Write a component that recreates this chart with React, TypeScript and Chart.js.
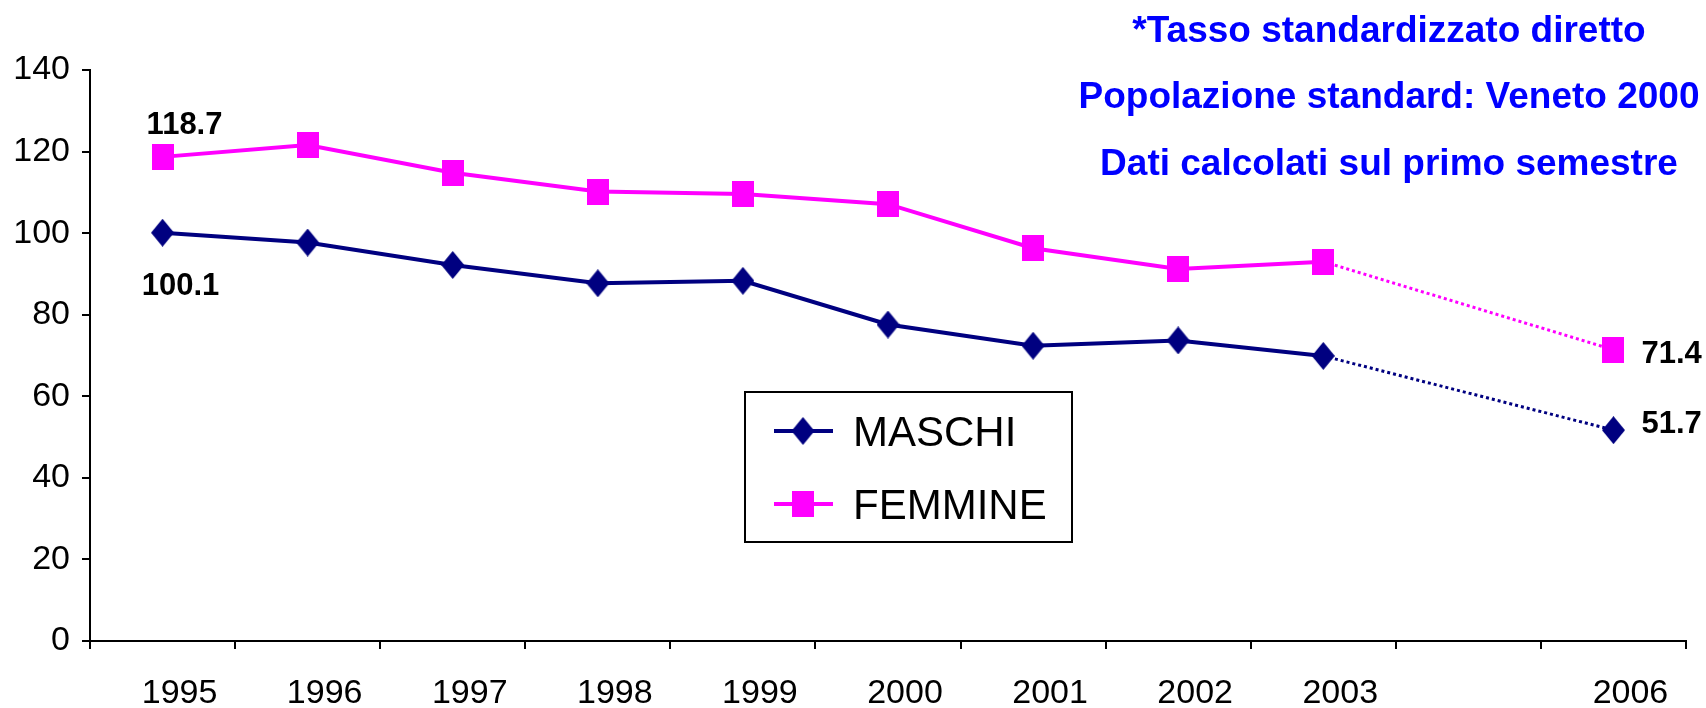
import React, { useEffect, useRef } from "react";
import { Chart, registerables } from "chart.js";

Chart.register(...registerables);

// ---- data ----
const categories = ["1995", "1996", "1997", "1998", "1999", "2000", "2001", "2002", "2003", "", "2006"];
const maschi: (number | null)[] = [100.1, 97.7, 92.2, 87.7, 88.3, 77.6, 72.4, 73.7, 69.9, null, 51.7];
const femmine: (number | null)[] = [118.7, 121.6, 114.8, 110.2, 109.6, 107.1, 96.3, 91.2, 93.0, null, 71.4];
const yTicks = [0, 20, 40, 60, 80, 100, 120, 140];
const seriesNames = ["MASCHI", "FEMMINE"];
const noteLines = [
  "*Tasso standardizzato diretto",
  "Popolazione standard: Veneto 2000",
  "Dati calcolati sul primo semestre",
];
// which points carry a value label: [datasetIndex, pointIndex]
const labelledPoints: [number, number][] = [
  [1, 0],
  [0, 0],
  [1, 10],
  [0, 10],
];

const FONT = "'Liberation Sans', Arial, Helvetica, sans-serif";
const NAVY = "#000080";
const MAGENTA = "#FF00FF";
const BLUE = "#0000FF";

function makeDiamond(color: string, w: number, h: number): HTMLCanvasElement {
  const c = document.createElement("canvas");
  c.width = w;
  c.height = h;
  const ctx = c.getContext("2d")!;
  ctx.fillStyle = color;
  ctx.beginPath();
  ctx.moveTo(w / 2, 0);
  ctx.lineTo(w, h / 2);
  ctx.lineTo(w / 2, h);
  ctx.lineTo(0, h / 2);
  ctx.closePath();
  ctx.fill();
  return c;
}

function makeSquare(color: string, w: number, h: number): HTMLCanvasElement {
  const c = document.createElement("canvas");
  c.width = w;
  c.height = h;
  const ctx = c.getContext("2d")!;
  ctx.fillStyle = color;
  ctx.fillRect(0, 0, w, h);
  return c;
}

export default function App() {
  const canvasRef = useRef<HTMLCanvasElement | null>(null);

  useEffect(() => {
    const canvas = canvasRef.current;
    if (!canvas) return;

    const diamond = makeDiamond(NAVY, 23, 28);
    const square = makeSquare(MAGENTA, 22, 26);
    const markers = [diamond, square];
    const colors = [NAVY, MAGENTA];

    // a segment that bridges a missing year is drawn dotted
    const gapSegment = (ctx: any) => {
      const d = ctx.chart.data.datasets[ctx.datasetIndex].data;
      return d[ctx.p0DataIndex] == null || d[ctx.p1DataIndex - 1] == null;
    };

    const overlay = {
      id: "overlay",
      afterDraw(chart: any) {
        const ctx = chart.ctx as CanvasRenderingContext2D;
        ctx.save();

        // notes (top right)
        ctx.fillStyle = BLUE;
        ctx.font = `bold 37px ${FONT}`;
        ctx.textAlign = "center";
        ctx.textBaseline = "alphabetic";
        const noteX = 1389;
        const noteBase = [42, 108, 175];
        noteLines.forEach((t, i) => ctx.fillText(t, noteX, noteBase[i]));

        // value labels
        ctx.fillStyle = "#000";
        const fs = 31;
        ctx.font = `bold ${fs}px ${FONT}`;
        const cap = fs * 0.716;
        labelledPoints.forEach(([ds, idx]) => {
          const pt = chart.getDatasetMeta(ds).data[idx];
          const v = chart.data.datasets[ds].data[idx] as number;
          const txt = v.toFixed(1);
          let x: number, yMid: number;
          if (idx === 0) {
            ctx.textAlign = "center";
            x = pt.x + (ds === 1 ? 22 : 18);
            yMid = pt.y + (ds === 1 ? -34 : 51);
          } else {
            ctx.textAlign = "left";
            x = pt.x + 28;
            yMid = pt.y + (ds === 1 ? 2 : -8);
          }
          ctx.fillText(txt, x, yMid + cap / 2);
        });

        // legend
        const bx = 745, by = 392, bw = 327, bh = 150;
        ctx.fillStyle = "#fff";
        ctx.fillRect(bx, by, bw, bh);
        ctx.strokeStyle = "#000";
        ctx.lineWidth = 2;
        ctx.strokeRect(bx, by, bw, bh);
        const rows = [431, 504];
        ctx.font = `42px ${FONT}`;
        ctx.textAlign = "left";
        seriesNames.forEach((name, i) => {
          const y = rows[i];
          ctx.strokeStyle = colors[i];
          ctx.lineWidth = 4;
          ctx.beginPath();
          ctx.moveTo(774, y);
          ctx.lineTo(833, y);
          ctx.stroke();
          const m = markers[i];
          ctx.drawImage(m, 803 - m.width / 2, y - m.height / 2);
          ctx.fillStyle = "#000";
          ctx.fillText(name, 853, y + (42 * 0.716) / 2);
        });

        ctx.restore();
      },
    };

    const segmentStyle = {
      borderDash: (ctx: any) => (gapSegment(ctx) ? [3, 3] : undefined),
      borderWidth: (ctx: any) => (gapSegment(ctx) ? 3 : undefined),
    };

    const chart = new Chart(canvas, {
      type: "line",
      data: {
        labels: categories,
        datasets: [
          {
            label: seriesNames[0],
            data: maschi,
            borderColor: NAVY,
            backgroundColor: NAVY,
            borderWidth: 4,
            pointStyle: diamond as any,
            pointRadius: 12,
            spanGaps: true,
            tension: 0,
            segment: segmentStyle,
          },
          {
            label: seriesNames[1],
            data: femmine,
            borderColor: MAGENTA,
            backgroundColor: MAGENTA,
            borderWidth: 4,
            pointStyle: square as any,
            pointRadius: 12,
            spanGaps: true,
            tension: 0,
            segment: segmentStyle,
          },
        ],
      },
      options: {
        responsive: false,
        animation: false,
        devicePixelRatio: 1,
        layout: { padding: { top: 70, right: 20, left: 0, bottom: 0 } },
        plugins: {
          legend: { display: false },
          tooltip: { enabled: false },
          title: { display: false },
        },
        scales: {
          x: {
            type: "category",
            offset: true,
            afterFit: (scale: any) => {
              scale.height = 67;
            },
            border: { display: true, color: "#000", width: 2 },
            grid: {
              offset: true,
              drawOnChartArea: false,
              drawTicks: true,
              tickLength: 8,
              color: "#000",
              lineWidth: 2,
            },
            ticks: {
              color: "#000",
              font: { family: FONT, size: 34 },
              padding: 24,
              labelOffset: 17,
              maxRotation: 0,
              autoSkip: false,
            },
          },
          y: {
            min: 0,
            max: 140,
            afterBuildTicks: (scale: any) => {
              scale.ticks = yTicks.map((v) => ({ value: v }));
            },
            afterFit: (scale: any) => {
              scale.width = 90;
            },
            border: { display: true, color: "#000", width: 2 },
            grid: {
              drawOnChartArea: false,
              drawTicks: true,
              tickLength: 8,
              color: "#000",
              lineWidth: 2,
            },
            ticks: {
              color: "#000",
              font: { family: FONT, size: 34 },
              padding: 12,
            },
          },
        },
      },
      plugins: [overlay],
    });

    return () => chart.destroy();
  }, []);

  return (
    <div style={{ position: "absolute", left: 0, top: 0, width: 1706, height: 708, background: "#fff" }}>
      <canvas ref={canvasRef} width={1706} height={708} />
    </div>
  );
}
